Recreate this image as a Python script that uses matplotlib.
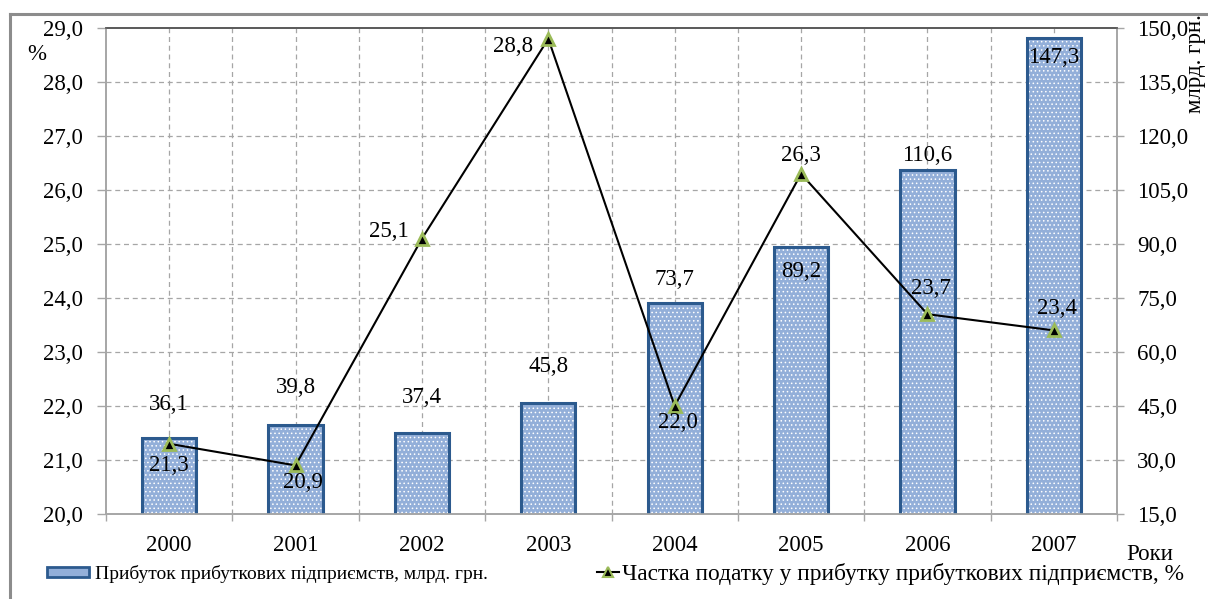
import numpy as np
import matplotlib.pyplot as plt
from matplotlib.lines import Line2D

plt.rcParams['font.family'] = ['Liberation Serif', 'DejaVu Serif']
plt.rcParams['hatch.linewidth'] = 0.6

# дані
years = ['2000', '2001', '2002', '2003', '2004', '2005', '2006', '2007']
profit = [36.1, 39.8, 37.4, 45.8, 73.7, 89.2, 110.6, 147.3]   # млрд. грн.
tax_share = [21.3, 20.9, 25.1, 28.8, 22.0, 26.3, 23.7, 23.4]  # %

# зсуви підписів (пікселі), як у вихідному рисунку
bar_lbl_dy = [34, 37, 36, 37, 23, -25, 14, -20]
line_lbl_off = [(0, -22), (7, -17), (-33, 7), (-35, -8), (3, -16), (0, 18), (4, 26), (3, 22)]

FS = 16.5

fig = plt.figure(figsize=(12.08, 5.99), dpi=100)
ax = fig.add_axes([106 / 1208, 85 / 599, 1011 / 1208, 486 / 599])
ax2 = ax.twinx()

x = np.arange(len(years))
grid_c = '#A6A6A6'

# стовпці (на правій осі)
ax2.bar(x, profit, width=0.43, color='#93AFD9', edgecolor='white', hatch='....', lw=0, zorder=2)
ax2.bar(x, profit, width=0.43, fill=False, edgecolor='#2C5A8E', lw=2.2, zorder=3)
for xi, v, dy in zip(x, profit, bar_lbl_dy):
    ax2.annotate(f'{v:.1f}'.replace('.', ','), (xi, v), xytext=(0, dy), textcoords='offset pixels',
                 ha='center', va='center', fontsize=FS, zorder=6)

ax2.set_ylim(15, 150)
ax2.set_yticks(np.arange(15, 151, 15))
ax2.set_yticklabels([f'{v:.1f}'.replace('.', ',') for v in np.arange(15, 151, 15)])

# лінія (на лівій осі) поверх стовпців
ax.set_zorder(ax2.get_zorder() + 1)
ax.patch.set_visible(False)
ax.plot(x, tax_share, color='black', lw=1.5, marker='^', ms=8, mfc='black', mec='#9BBB59', mew=2, zorder=5)
for xi, v, (dx, dy) in zip(x, tax_share, line_lbl_off):
    ax.annotate(f'{v:.1f}'.replace('.', ','), (xi, v), xytext=(dx, dy), textcoords='offset pixels',
                ha='center', va='center', fontsize=FS, zorder=6)

ax.set_ylim(20, 29)
ax.set_yticks(np.arange(20, 29.1, 1))
ax.set_yticklabels([f'{v:.1f}'.replace('.', ',') for v in np.arange(20, 29.1, 1)])
ax.set_xlim(-0.5, 7.5)
ax.set_xticks(x)
ax.set_xticklabels(years)
ax.set_xticks(np.arange(-0.5, 7.6, 1), minor=True)

# сітка
for yv in np.arange(21, 29, 1):
    ax2.axhline(15 + (yv - 20) * 15, color=grid_c, ls=(0, (4, 3)), lw=0.9, zorder=1)
for xv in np.arange(0, 7.6, 0.5):
    ax2.axvline(xv, color=grid_c, ls=(0, (4, 3)), lw=0.9, zorder=1)

ax.tick_params(axis='y', which='major', length=6.5, width=1, color=grid_c, pad=10, labelsize=FS)
ax.tick_params(axis='x', which='major', length=0, pad=15, labelsize=FS)
ax.tick_params(axis='x', which='minor', length=5, width=1, color=grid_c)
ax2.tick_params(axis='y', length=5, width=1, color=grid_c, pad=9.5, labelsize=FS)

for a in (ax, ax2):
    for s in ('left', 'right', 'bottom'):
        a.spines[s].set_color(grid_c)
        a.spines[s].set_linewidth(1.2)
    a.spines['top'].set_color('#595959')
    a.spines['top'].set_linewidth(1.2)

fig.text(37 / 1208, 1 - 55 / 599, '%', fontsize=FS, ha='center', va='center')
fig.text(1196 / 1208, 1 - 64 / 599, 'млрд. грн.', fontsize=FS, rotation=90, ha='center', va='center')
fig.text(1150 / 1208, 1 - 554 / 599, 'Роки', fontsize=FS, ha='center', va='center')

# легенда: дві частини
ly = 1 - 574 / 599
h_bar = plt.Rectangle((0, 0), 1, 1, facecolor='#93AFD9', edgecolor='#2C5A8E', lw=2)
h_line = Line2D([], [], color='black', lw=1.5, marker='^', ms=7, mfc='black', mec='#9BBB59', mew=1.5)
leg1 = fig.legend([h_bar], ['Прибуток прибуткових підприємств, млрд. грн.'],
                  loc='center left', bbox_to_anchor=(47 / 1208, ly), frameon=False, fontsize=14,
                  handlelength=2.15, handletextpad=0.3, handleheight=0.45, borderpad=0, borderaxespad=0)
leg2 = fig.legend([h_line], ['Частка податку у прибутку прибуткових підприємств, %'],
                  loc='center left', bbox_to_anchor=(597 / 1208, ly), frameon=False,
                  prop={'size': 16.8, 'weight': 'medium'},
                  handlelength=0.95, handletextpad=0.12, borderpad=0, borderaxespad=0)

# рамка рисунка
fig.add_artist(Line2D([10 / 1208, 10 / 1208], [0, 1 - 14 / 599], color='#8C8C8C', lw=2.2, transform=fig.transFigure))
fig.add_artist(Line2D([10 / 1208, 1], [1 - 14 / 599, 1 - 14 / 599], color='#8C8C8C', lw=2.2, transform=fig.transFigure))

fig.savefig('out.png', dpi=100)
